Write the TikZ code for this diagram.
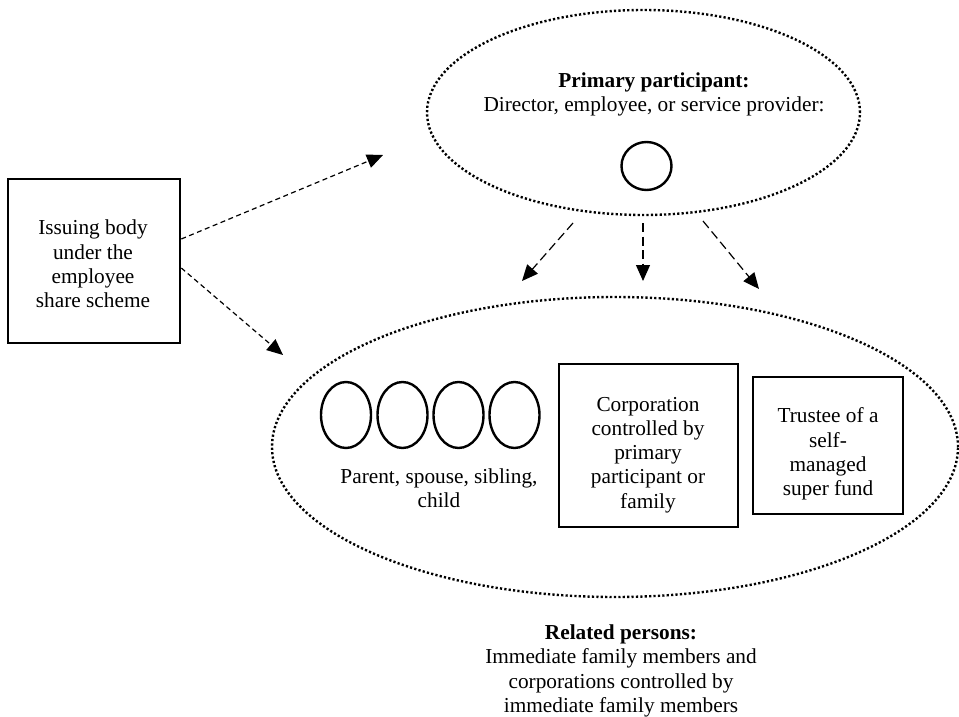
\documentclass[tikz,border=0pt]{standalone}
\usepackage{fontspec}
\setmainfont{Liberation Serif}
\usetikzlibrary{shapes.geometric,arrows.meta}

\tikzset{
  txt/.style={align=center, inner sep=0pt, font=\fontsize{21.3}{24.2}\selectfont},
  group/.style={draw, ellipse, inner sep=0pt, line width=2.4pt, dash pattern=on 2.2pt off 2.2pt},
  person/.style={draw, ellipse, inner sep=0pt, line width=2.4pt},
  entity/.style={draw, rectangle, inner sep=0pt, line width=2.6pt},
  tip/.style={-{Triangle[length=16pt,width=14pt]}},
  linkshort/.style={tip, line width=1.2pt, dash pattern=on 5pt off 3.5pt},
  linklong/.style={tip, line width=1.2pt, dash pattern=on 9pt off 4.5pt},
}

\begin{document}
\begin{tikzpicture}[x=1pt, y=-1pt]
  \useasboundingbox (0,0) rectangle (959,717);

  % issuing body
  \node[entity, minimum width=172pt, minimum height=164pt] (issue) at (94,261) {};
  \node[txt] (issuetext) at (93,264) {Issuing body\\under the\\employee\\share scheme};

  % primary participant group
  \node[group, minimum width=433pt, minimum height=205pt] (primary) at (643.5,112.5) {};
  \node[txt] (primarytext) at (654,94.5) {\textbf{Primary participant:}\\Director, employee, or service provider:};
  \node[person, minimum width=50pt, minimum height=48pt] (pp) at (646.5,166) {};

  % related persons group
  \node[group, minimum width=686pt, minimum height=300pt] (related) at (615,447) {};
  \node[person, minimum width=50pt, minimum height=66pt] (f1) at (346,415) {};
  \node[person, minimum width=50pt, minimum height=66pt] (f2) at (402.5,415) {};
  \node[person, minimum width=50pt, minimum height=66pt] (f3) at (458.5,415) {};
  \node[person, minimum width=50pt, minimum height=66pt] (f4) at (514.5,415) {};
  \node[txt] (familytext) at (439,488) {Parent, spouse, sibling,\\child};

  \node[entity, minimum width=179pt, minimum height=163pt] (corp) at (648.5,445.5) {};
  \node[txt] (corptext) at (648,455) {Corporation\\controlled by\\primary\\participant or\\family};

  \node[entity, minimum width=150pt, minimum height=137pt] (trustee) at (828,445.5) {};
  \node[txt] (trusteetext) at (828,454) {Trustee of a\\self-\\managed\\super fund};

  \node[txt] (relatedtext) at (621,671) {\textbf{Related persons:}\\Immediate family members and\\corporations controlled by\\immediate family members};

  % arrow end points
  \coordinate (toprimary) at (383,155);
  \coordinate (torelated) at (283,355);
  \coordinate (d1s) at (573,223);
  \coordinate (d1e) at (522,281);
  \coordinate (d2s) at (643,223);
  \coordinate (d2e) at (643,281);
  \coordinate (d3s) at (703,221);
  \coordinate (d3e) at (759,289);

  % connectors
  \draw[linkshort] ([yshift=22pt]issue.east) -- (toprimary);
  \draw[linkshort] ([yshift=-7pt]issue.east) -- (torelated);
  \draw[linklong] (d1s) -- (d1e);
  \draw[linklong] (d2s) -- (d2e);
  \draw[linklong] (d3s) -- (d3e);
\end{tikzpicture}
\end{document}
